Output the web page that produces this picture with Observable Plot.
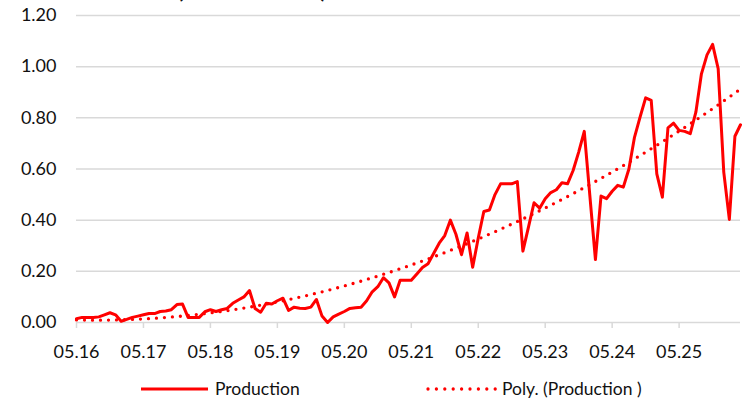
<!DOCTYPE html>
<html><head><meta charset="utf-8">
<script src="https://cdn.jsdelivr.net/npm/d3@7"></script>
<script src="https://cdn.jsdelivr.net/npm/@observablehq/plot@0.6"></script>
<style>
html,body{margin:0;padding:0;background:#fff;overflow:hidden;}
#wrap{position:relative;width:743px;height:402px;overflow:hidden;font-family:Lato,"Open Sans",sans-serif;}
#title{position:absolute;left:88px;top:-21px;font-size:22px;font-weight:bold;color:#111;white-space:nowrap;line-height:22px;}
#chart{position:absolute;left:0;top:0;}
.leg{position:absolute;top:378px;height:22px;font-size:17.5px;line-height:22px;color:#111;white-space:nowrap;}
.leg svg{position:absolute;top:0;}
</style></head><body>
<div id="wrap">
  <div id="title">Volumes (million tonnes)</div>
  <div id="chart"></div>
  <div class="leg" style="left:140px"><svg width="70" height="22" id="sw1"></svg><span style="position:absolute;left:75px">Production</span></div>
  <div class="leg" style="left:426px"><svg width="72" height="22" id="sw2"></svg><span style="position:absolute;left:76px">Poly. (Production )</span></div>
</div>
<script>
const tickLabels = ["05.16","05.17","05.18","05.19","05.20","05.21","05.22","05.23","05.24","05.25"];
const yTicks = [0, 0.2, 0.4, 0.6, 0.8, 1.0, 1.2];
const seriesNames = ["Production", "Poly. (Production )"];
const production = [
  0.015,0.02,0.02,0.02,0.022,0.03,0.038,0.03,0.005,0.012,0.02,0.025,
  0.03,0.035,0.035,0.043,0.045,0.05,0.07,0.072,0.02,0.02,0.02,0.042,
  0.05,0.043,0.05,0.055,0.075,0.088,0.1,0.125,0.055,0.04,0.075,0.072,
  0.085,0.095,0.047,0.06,0.056,0.055,0.06,0.09,0.025,0.0,0.022,0.033,
  0.043,0.055,0.058,0.06,0.085,0.12,0.14,0.175,0.155,0.1,0.165,0.165,
  0.165,0.19,0.215,0.23,0.27,0.31,0.34,0.4,0.345,0.265,0.35,0.216,
  0.33,0.434,0.44,0.5,0.542,0.542,0.542,0.551,0.279,0.373,0.468,0.447,
  0.484,0.508,0.519,0.546,0.542,0.594,0.666,0.747,0.496,0.246,0.494,0.484,
  0.513,0.536,0.529,0.6,0.724,0.803,0.878,0.868,0.581,0.49,0.761,0.779,
  0.751,0.747,0.738,0.822,0.972,1.046,1.087,0.992,0.588,0.403,0.728,0.773
];

const data = production.map((v, i) => ({i, v}));

// Quadratic least-squares trend (as Excel's polynomial trendline)
function polyFit(ys, order) {
  const n = order + 1;
  const A = Array.from({length: n}, () => new Array(n + 1).fill(0));
  ys.forEach((y, x) => {
    for (let r = 0; r < n; r++) {
      for (let c = 0; c < n; c++) A[r][c] += Math.pow(x, r + c);
      A[r][n] += y * Math.pow(x, r);
    }
  });
  for (let k = 0; k < n; k++) {
    let p = k;
    for (let r = k + 1; r < n; r++) if (Math.abs(A[r][k]) > Math.abs(A[p][k])) p = r;
    [A[k], A[p]] = [A[p], A[k]];
    for (let r = 0; r < n; r++) {
      if (r === k) continue;
      const f = A[r][k] / A[k][k];
      for (let c = k; c <= n; c++) A[r][c] -= f * A[k][c];
    }
  }
  return A.map((row, k) => row[n] / row[k]);
}
const coef = polyFit(production, 2);
const trend = production.map((_, i) => ({i, v: coef.reduce((s, c, k) => s + c * Math.pow(i, k), 0)}));

const xTickIdx = tickLabels.map((_, k) => k * 12);
const RED = "#ff0000";

const chart = Plot.plot({
  width: 743,
  height: 370,
  marginLeft: 76,
  marginRight: 3,
  marginTop: 15,
  marginBottom: 48,
  style: {fontFamily: "Lato, 'Open Sans', sans-serif", fontSize: "18px", color: "#111", background: "transparent", overflow: "visible"},
  x: {domain: [0, production.length - 1], label: null},
  y: {domain: [0, 1.2], label: null},
  marks: [
    Plot.gridY(yTicks, {stroke: "#d9d9d9", strokeOpacity: 1, strokeWidth: 1.5}),
    Plot.axisY(yTicks, {tickSize: 0, tickPadding: 20, tickFormat: d3.format(".2f"), fontSize: 18, fill: "#111", label: null}),
    Plot.axisX(xTickIdx, {tickSize: 6, tickPadding: 17, stroke: "#d9d9d9", strokeWidth: 1.5, strokeOpacity: 1, fill: "#111", fontSize: 18, label: null, tickFormat: d => tickLabels[Math.round(d / 12)]}),
    Plot.line(trend, {x: "i", y: "v", stroke: RED, strokeWidth: 3.3, strokeDasharray: "0 8", strokeLinecap: "round"}),
    Plot.line(data, {x: "i", y: "v", stroke: RED, strokeWidth: 3, strokeLinejoin: "round"})
  ]
});
document.getElementById("chart").appendChild(chart);

// legend swatches
const s1 = d3.select("#sw1");
s1.append("line").attr("x1", 1).attr("x2", 68).attr("y1", 11).attr("y2", 11).attr("stroke", RED).attr("stroke-width", 3);
const s2 = d3.select("#sw2");
s2.append("line").attr("x1", 2).attr("x2", 70).attr("y1", 11).attr("y2", 11).attr("stroke", RED).attr("stroke-width", 3.3).attr("stroke-dasharray", "0 8.4").attr("stroke-linecap", "round");
</script>
</body></html>
